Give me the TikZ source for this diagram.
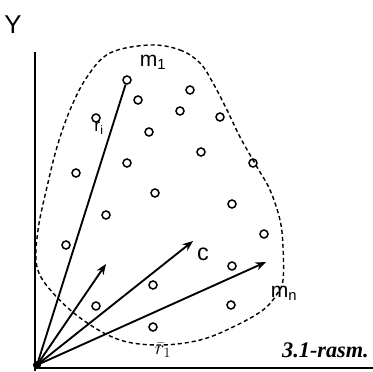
\documentclass[tikz,border=0pt]{standalone}
\usepackage{fontspec}
\setmainfont{Liberation Sans}
\newfontfamily\capfont{Liberation Serif}
\usetikzlibrary{arrows.meta}
\begin{document}
\begin{tikzpicture}[x=0.03cm, y=-0.03cm]
        % Styles
        \tikzstyle{point} = [circle, draw=black, line width=1.3pt, minimum size=0.24cm, inner sep=0pt]
        \tikzstyle{axis} = [line width=2.4pt]
        \tikzstyle{radius} = [line width=1.6pt]
        \tikzstyle{arrow} = [line width=1.6pt,->,>={Stealth[length=9pt,width=7pt]}]
        \tikzstyle{lbl} = [inner sep=0pt, font=\fontsize{18}{18}\selectfont]
        \useasboundingbox (0,0) rectangle (373,371);

        % Axes
        \coordinate (O) at (37,365);
        \coordinate (ytop) at (35,52);
        \coordinate (xend) at (373,368);
        \draw [axis] (35,371) -- (ytop);
        \draw [axis] (35,368) -- (xend);
        \node (ylab) [lbl, font=\fontsize{22}{22}\selectfont] at (13,25) {Y};

        % Boundary of the system
        \draw [line width=1.2pt, dash pattern=on 3.5pt off 2.5pt] plot [smooth cycle, tension=0.6] coordinates {
            (150,45) (180,50) (200,63) (213,83) (227,110) (240,137) (257,167) (270,190) (280,220)
            (283,247) (283,280) (277,294) (263,310) (233,327) (200,340) (160,345) (120,340)
            (83,320) (53,293) (37,267) (38,230) (47,187) (57,147) (70,110) (87,77) (110,53)};

        % Material points
        \node (p1) [point] at (127,80) {};
        \node (p2) [point] at (138,100) {};
        \node (p3) [point] at (190,90) {};
        \node (p4) [point] at (180,111) {};
        \node (p5) [point] at (220,117) {};
        \node (p6) [point] at (96,118) {};
        \node (p7) [point] at (149,132) {};
        \node (p8) [point] at (201,152) {};
        \node (p9) [point] at (253,163) {};
        \node (p10) [point] at (76,173) {};
        \node (p11) [point] at (127,163) {};
        \node (p12) [point] at (155,193) {};
        \node (p13) [point] at (232,204) {};
        \node (p14) [point] at (106,215) {};
        \node (p15) [point] at (264,234) {};
        \node (p16) [point] at (66,245) {};
        \node (p17) [point] at (232,266) {};
        \node (p18) [point] at (153,285) {};
        \node (p19) [point] at (96,306) {};
        \node (p20) [point] at (231,305) {};
        \node (p21) [point] at (153,327) {};

        % Radius vectors
        \coordinate (a1) at (106,264);
        \coordinate (a2) at (193,241);
        \coordinate (a3) at (266,262);
        \draw [radius] (O) -- (p1);
        \draw [arrow] (O) -- (a1);
        \draw [arrow] (O) -- (a2);
        \draw [arrow] (O) -- (a3);
        \fill (O) circle (3.5pt);

        % Labels
        \node (m1) [lbl] at (153,62) {m\textsubscript{1}};
        \node (ri) [lbl, font=\fontsize{15}{15}\selectfont] at (99,128) {r\textsubscript{i}};
        \node (c) [lbl, font=\fontsize{20}{20}\selectfont] at (203,254) {c};
        \node (mn) [lbl] at (284,293) {m\textsubscript{n}};
        \node (r1) [lbl, font=\fontsize{17}{17}\selectfont] at (163,350) {$\bar{r}_1$};
        \node (cap) [lbl, anchor=east, font=\capfont\bfseries\itshape\fontsize{19}{19}\selectfont] at (369,350) {3.1-rasm.};

    \end{tikzpicture}
\end{document}
